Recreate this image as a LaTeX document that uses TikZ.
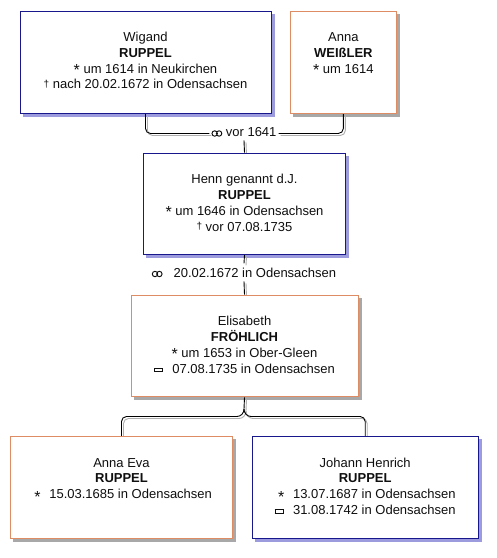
\documentclass[tikz,border=0pt]{standalone}
\usepackage{fontspec}
\setmainfont{Liberation Sans}
\usetikzlibrary{backgrounds}
\definecolor{mborder}{RGB}{24,24,140}
\definecolor{fborder}{RGB}{222,140,100}
\definecolor{mshad}{RGB}{155,155,222}
\definecolor{fshad}{RGB}{168,168,168}
\definecolor{ctext}{RGB}{15,15,15}
\definecolor{lshad}{RGB}{175,175,175}
\newcommand\gebst{\raisebox{-2pt}{\fontsize{16}{16}\selectfont *}}
\newcommand\gebstb{\raisebox{-3.5pt}{\fontsize{16}{16}\selectfont *}}
\newcommand\todk{\raisebox{1.5pt}{\fontsize{10}{10}\selectfont †}}
\newcommand\begr{{\setlength\fboxrule{1.1pt}\setlength\fboxsep{0pt}\raisebox{1.8pt}{\fbox{\rule{0pt}{2.6pt}\rule{7.2pt}{0pt}}}}}
\newcommand\heir{\tikz[baseline=0pt,x=1pt,y=1pt,line width=0.95pt]{\draw (2.7,3) circle[radius=2.7] (7.1,3) circle[radius=2.7];}}
\newcommand\fstrut{\rule{0pt}{10pt}}
\newcommand\symcol[1]{\makebox[18.3pt][l]{#1}}
\tikzset{
  pbox/.style={rectangle, fill=white, line width=1pt, inner sep=0pt, anchor=north west},
  mbox/.style={pbox, draw=mborder},
  fembox/.style={pbox, draw=fborder},
  ptext/.style={anchor=north, align=center, inner sep=0pt, text=ctext, font=\fontsize{13}{15.7}\selectfont},
  conn/.style={draw=black, line width=0.9pt},
  cshadow/.style={draw=lshad, line width=0.9pt, transform canvas={xshift=2pt,yshift=-2pt}},
  mlabel/.style={anchor=base, inner xsep=2pt, inner ysep=3.5pt, text=ctext, font=\fontsize{13}{15.7}\selectfont},
}
\newcommand\boxshadow[2]{\fill[#2] ([shift={(3pt,-3pt)}]#1.south west) rectangle ([shift={(3pt,-3pt)}]#1.north east);}
\newcommand\connpaths[1]{%
  \draw[#1, rounded corners=5pt] (b1.south) |- (m1.west |- j1);
  \draw[#1, rounded corners=5pt] (b2.south) |- (m1.east |- j1);
  \draw[#1] (m1.south) -- (b3.north);
  \draw[#1] (b3.south) -- (m2.north);
  \draw[#1] (m2.south) -- (b4.north);
  \draw[#1] (b4.south) -- (fk) .. controls +(0,4) and +(4,0) .. (fl);
  \draw[#1] (fk) .. controls +(0,4) and +(-4,0) .. (fr);
  \draw[#1, rounded corners=5pt] (fl) -| (b5.north);
  \draw[#1, rounded corners=5pt] (fr) -| (b6.north);
}
\begin{document}
\begin{tikzpicture}[x=1pt,y=-1pt]
\useasboundingbox (0,0) rectangle (497,558);
% boxes
\node[mbox, minimum width=251pt, minimum height=102pt] (b1) at (19.5,10.5) {};
\node[fembox, minimum width=105.7pt, minimum height=102pt] (b2) at (290,10.5) {};
\node[mbox, minimum width=202.6pt, minimum height=101.3pt] (b3) at (142.7,152.7) {};
\node[fembox, minimum width=227pt, minimum height=101.6pt] (b4) at (130.5,294.7) {};
\node[fembox, minimum width=221.4pt, minimum height=102.3pt] (b5) at (10.3,436) {};
\node[mbox, minimum width=226pt, minimum height=102.3pt] (b6) at (251.7,436) {};
% texts
\node[ptext] (t1) at ([yshift=-21pt]b1.north) {\fstrut Wigand\\\textbf{RUPPEL}\\\gebst{} um 1614 in Neukirchen\\\todk{} nach 20.02.1672 in Odensachsen};
\node[ptext] (t2) at ([yshift=-21pt]b2.north) {\fstrut Anna\\\textbf{WEIßLER}\\\gebst{} um 1614};
\node[ptext] (t3) at ([yshift=-21pt]b3.north) {\fstrut Henn genannt d.J.\\\textbf{RUPPEL}\\\gebst{} um 1646 in Odensachsen\\\todk{} vor 07.08.1735};
\node[ptext] (t4) at ([yshift=-21pt]b4.north) {\fstrut Elisabeth\\\textbf{FRÖHLICH}\\\gebst{} um 1653 in Ober-Gleen\\\symcol{\begr}07.08.1735 in Odensachsen};
\node[ptext] (t5) at ([yshift=-21pt]b5.north) {\fstrut Anna Eva\\\textbf{RUPPEL}\\\symcol{\makebox[9.6pt][r]{\gebstb}}15.03.1685 in Odensachsen};
\node[ptext] (t6) at ([yshift=-21pt]b6.north) {\fstrut Johann Henrich\\\textbf{RUPPEL}\\\symcol{\makebox[9.6pt][r]{\gebstb}}13.07.1687 in Odensachsen\\\symcol{\begr}31.08.1742 in Odensachsen};
% marriage labels
\node[mlabel] (m1) at (244,136.5) {\heir{} vor 1641};
\node[mlabel, inner ysep=4pt] (m2) at (244,277) {\heir\hspace{11pt}20.02.1672 in Odensachsen};
\coordinate (j1) at (244,133.5);
\coordinate (fk) at (244,409);
\coordinate (fl) at (237,416.5);
\coordinate (fr) at (251,416.5);
\begin{scope}[on background layer]
  \fill[white] (0,0) rectangle (497,558);
  \boxshadow{b1}{mshad}
  \boxshadow{b2}{fshad}
  \boxshadow{b3}{mshad}
  \boxshadow{b4}{fshad}
  \boxshadow{b5}{fshad}
  \boxshadow{b6}{mshad}
  \connpaths{cshadow}
  \connpaths{conn}
\end{scope}
\end{tikzpicture}
\end{document}
